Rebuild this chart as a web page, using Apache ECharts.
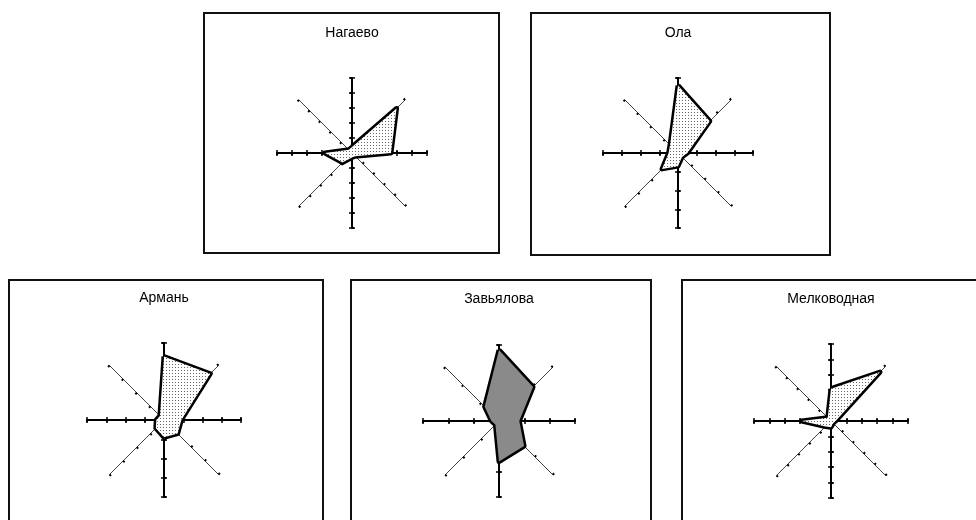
<!DOCTYPE html>
<html>
<head>
<meta charset="utf-8">
<script src="https://cdn.jsdelivr.net/npm/echarts@6/dist/echarts.min.js"></script>
<style>
  html, body { margin: 0; padding: 0; background: #fff; }
  #chart { width: 976px; height: 520px; }
</style>
</head>
<body>
<div id="chart"></div>
<script>
// направления по часовой стрелке, начиная с севера
const directions = ['С', 'СВ', 'В', 'ЮВ', 'Ю', 'ЮЗ', 'З', 'СЗ']
const stations = ['Нагаево', 'Ола', 'Армань', 'Завьялова', 'Мелководная']

// повторяемость ветра, % (С, СВ, В, ЮВ, Ю, ЮЗ, З, СЗ)
const nagaevo = [4, 42, 26, 3, 3, 9, 18, 3]
const ola = [36, 24, 5, 3, 7, 12, 5, 6]
const arman = [33, 34, 9, 10, 9, 6, 4, 3]
const zavyalova = [28, 19, 8, 14, 16, 2, 3, 8]
const melkovodnaya = [21, 45, 3, 2, 4, 5, 19, 3]

const axisMax = [50, 40, 40, 30, 50]
const splits = [5, 4, 4, 3, 5]

const values = [nagaevo, ola, arman, zavyalova, melkovodnaya]

// положение каждой розы и её рамки
const centers = [[352, 153], [678, 153], [164, 420], [499, 421], [831, 421]]
const radii = [75, 75, 77, 76, 77]
const frames = [[204, 13, 295, 240], [531, 13, 299, 242], [9, 280, 314, 260], [351, 280, 300, 260], [682, 280, 310, 260]]
const titleY = [33, 33, 298, 299, 299]

// echarts рисует индикаторы радара против часовой стрелки
function ccw(arr) {
    return [arr[0]].concat(arr.slice(1).reverse())
}

// точечная штриховка как в Excel
function dotPattern() {
    let c = document.createElement('canvas')
    c.width = 3
    c.height = 3
    let ctx = c.getContext('2d')
    ctx.fillStyle = '#ffffff'
    ctx.fillRect(0, 0, 3, 3)
    ctx.fillStyle = '#666666'
    ctx.fillRect(1, 1, 1, 1)
    return c
}

let myChart = echarts.init(document.getElementById('chart'))
let pattern = { image: dotPattern(), repeat: 'repeat' }

let radars = []
let series = []
let graphics = []

function crossAxes(i, tickLen, showLine) {
    return {
        center: centers[i],
        radius: radii[i],
        startAngle: 90,
        splitNumber: splits[i],
        shape: 'polygon',
        indicator: ['С', 'З', 'Ю', 'В'].map(d => ({ name: d, max: axisMax[i], min: 0 })),
        axisName: { show: false },
        splitLine: { show: false },
        splitArea: { show: false },
        axisLine: { show: showLine, lineStyle: { color: '#000', width: 2 } },
        axisTick: { show: true, length: tickLen, lineStyle: { color: '#000', width: 1.5 } }
    }
}

stations.forEach((name, i) => {
    // тонкие оси — все 8 направлений
    radars.push({
        center: centers[i],
        radius: radii[i],
        startAngle: 90,
        splitNumber: splits[i],
        shape: 'polygon',
        indicator: ccw(directions).map(d => ({ name: d, max: axisMax[i], min: 0 })),
        axisName: { show: false },
        splitLine: { show: false },
        splitArea: { show: false },
        axisLine: { lineStyle: { color: '#444', width: 1 } },
        axisTick: { show: true, length: 2, lineStyle: { color: '#000', width: 2 } }
    })
    let fill = i === 3 ? '#8a8a8a' : pattern
    series.push({
        type: 'radar',
        radarIndex: i,
        symbol: 'none',
        itemStyle: { color: '#000' },
        lineStyle: { color: '#000', width: 5 },
        areaStyle: { color: fill, opacity: 1 },
        data: [{ value: ccw(values[i]), name: name }]
    })
    graphics.push({
        type: 'rect',
        shape: { x: frames[i][0], y: frames[i][1], width: frames[i][2], height: frames[i][3] },
        style: { fill: 'none', stroke: '#111', lineWidth: 2 }
    })
    graphics.push({
        type: 'text',
        x: centers[i][0],
        y: titleY[i],
        style: {
            text: name,
            fill: '#000',
            font: '14px "Liberation Sans", Arial, sans-serif',
            align: 'center',
            verticalAlign: 'middle'
        }
    })
})

// толстые оси С-В-Ю-З, засечки по обе стороны
stations.forEach((name, i) => {
    radars.push(crossAxes(i, 3, true))
})
stations.forEach((name, i) => {
    radars.push(crossAxes(i, -3, false))
})

let option = {
    backgroundColor: '#fff',
    animation: false,
    radar: radars,
    series: series,
    graphic: graphics
}
myChart.setOption(option)
</script>
</body>
</html>
